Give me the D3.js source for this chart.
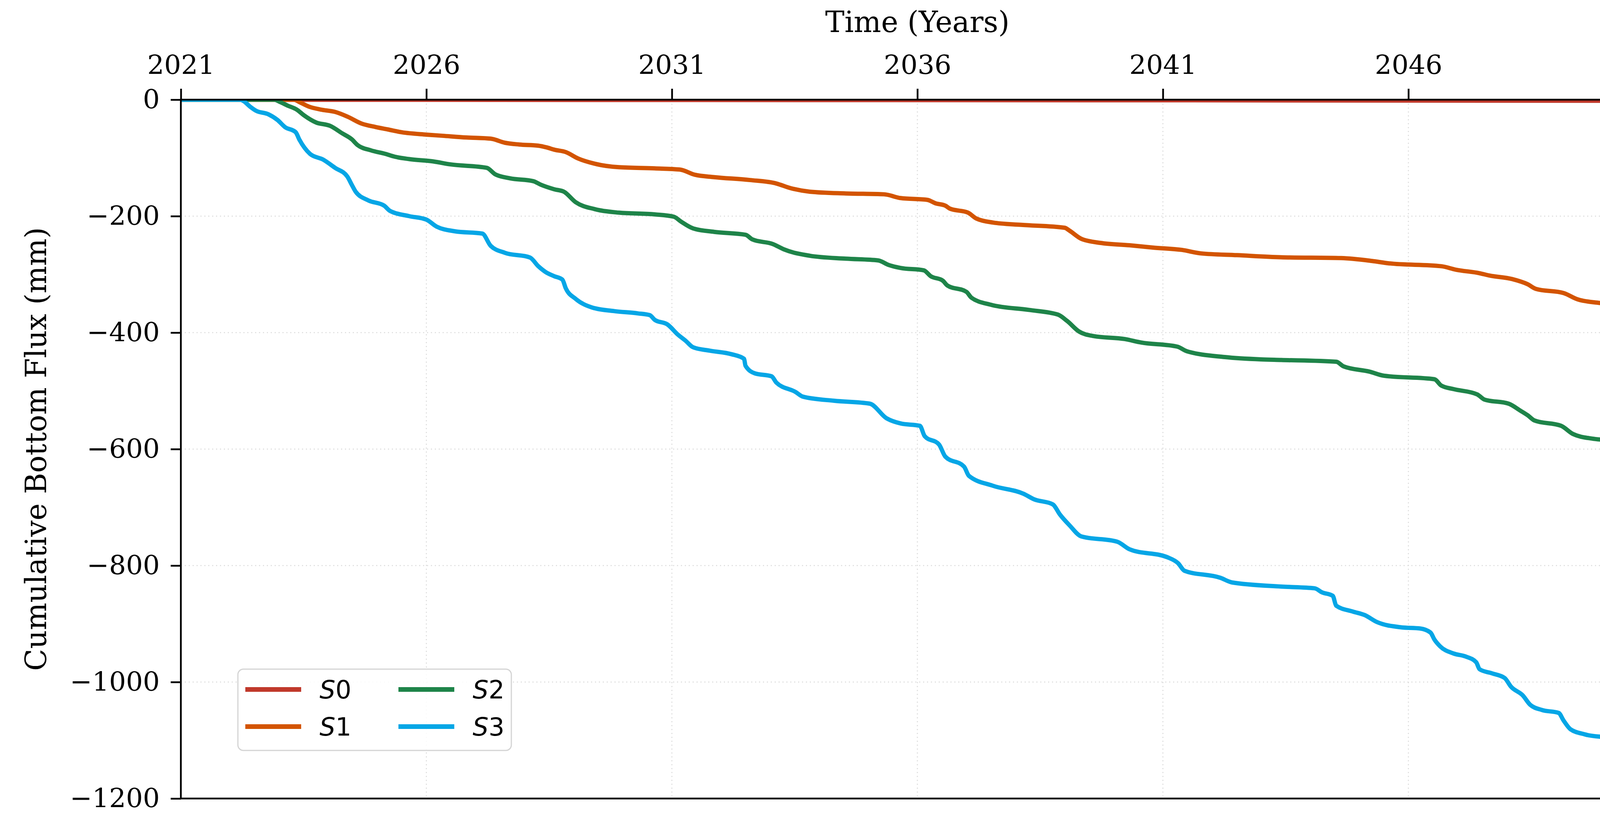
<!DOCTYPE html>
<html>
<head>
<meta charset="utf-8">
<script src="https://cdn.jsdelivr.net/npm/d3@7"></script>
<style>
  html, body { margin: 0; padding: 0; background: #fff; }
  svg { display: block; }
</style>
</head>
<body>
<div id="chart"></div>
<script>
// values (year, cumulative flux in mm)
var seriesNames = ["S0", "S1", "S2", "S3"];
var seriesColors = ["#c0392b", "#d35400", "#1e8449", "#05a6e6"];

var s0 = [[2021, 0], [2031, -0.5], [2041, -1], [2051, -2]];

var s1 = [[2021, 0], [2023.3, 0], [2023.41, -4], [2023.61, -12], [2023.85, -17], [2024.14, -21],
  [2024.39, -29], [2024.68, -41], [2024.97, -47], [2025.21, -51], [2025.5, -56], [2026.0, -60],
  [2026.33, -62], [2026.82, -65], [2027.31, -67], [2027.6, -74], [2027.89, -77], [2028.28, -79],
  [2028.45, -82], [2028.61, -86], [2028.84, -90], [2029.09, -101], [2029.43, -110], [2029.92, -116],
  [2030.65, -118], [2031.16, -120], [2031.47, -129], [2031.86, -133], [2032.59, -138], [2033.13, -144],
  [2033.42, -152], [2033.81, -158], [2034.54, -161], [2035.32, -162.5], [2035.66, -169], [2036.2, -172],
  [2036.37, -178], [2036.57, -182], [2036.66, -187], [2037.03, -194], [2037.2, -204], [2037.54, -211],
  [2038.12, -215], [2039.0, -220], [2039.1, -225], [2039.34, -239], [2039.73, -246], [2040.32, -250],
  [2040.8, -254], [2041.39, -258], [2041.78, -264], [2042.51, -267], [2043.41, -270.6], [2044.63, -272],
  [2045.26, -277], [2045.6, -281], [2046.67, -286], [2046.97, -292], [2047.45, -298], [2047.65, -302],
  [2048.11, -308], [2048.43, -317], [2048.6, -325], [2049.16, -332], [2049.45, -343], [2049.89, -349],
  [2051, -355]];

var s2 = [[2021, 0], [2022.9, 0], [2023.02, -4], [2023.17, -10], [2023.36, -17], [2023.51, -27],
  [2023.75, -39], [2024.04, -45], [2024.29, -58], [2024.48, -68], [2024.6, -78], [2024.87, -87],
  [2025.16, -93], [2025.36, -98], [2025.65, -102], [2026.14, -106], [2026.48, -111], [2027.23, -117],
  [2027.4, -128], [2027.7, -135], [2028.18, -140], [2028.33, -146], [2028.61, -154], [2028.8, -158],
  [2029.04, -176], [2029.43, -188], [2029.92, -194], [2030.65, -197], [2031.04, -201], [2031.18, -209],
  [2031.43, -221], [2031.86, -227], [2032.5, -232], [2032.64, -240], [2033.06, -248], [2033.28, -257],
  [2033.81, -268], [2034.54, -273], [2035.2, -276], [2035.42, -284], [2035.66, -289], [2036.13, -293],
  [2036.27, -303], [2036.52, -311], [2036.61, -319], [2037.0, -330], [2037.1, -340], [2037.49, -352],
  [2038.27, -361], [2038.86, -369], [2039.05, -380], [2039.29, -398], [2039.59, -406], [2040.22, -411],
  [2040.56, -417], [2041.29, -424], [2041.49, -432], [2042.26, -442], [2043.0, -446], [2043.41, -447],
  [2044.53, -450], [2044.68, -458], [2045.21, -467], [2045.5, -474], [2046.53, -480], [2046.67, -491],
  [2046.92, -497], [2047.4, -506], [2047.55, -515], [2048.04, -522], [2048.28, -534], [2048.43, -542],
  [2048.57, -551], [2049.11, -560], [2049.35, -574], [2049.74, -582], [2050.47, -587], [2051, -595]];

var s3 = [[2021, 0], [2022.2, 0], [2022.27, -2], [2022.41, -12], [2022.53, -19], [2022.78, -25],
  [2022.97, -35], [2023.12, -47], [2023.34, -56], [2023.41, -68], [2023.63, -93], [2023.9, -103],
  [2024.14, -117], [2024.39, -132], [2024.48, -146], [2024.56, -158], [2024.82, -173], [2025.14, -182],
  [2025.26, -191], [2025.65, -200], [2026.0, -206], [2026.21, -218], [2026.58, -226], [2027.14, -230],
  [2027.31, -251], [2027.6, -263], [2028.11, -271], [2028.28, -286], [2028.43, -296], [2028.6, -303],
  [2028.77, -309], [2028.84, -324], [2029.04, -342], [2029.38, -357], [2029.82, -363], [2030.31, -367],
  [2030.55, -370], [2030.65, -378], [2030.91, -386], [2031.13, -404], [2031.28, -414], [2031.43, -425],
  [2031.77, -431], [2032.21, -437], [2032.47, -445], [2032.5, -457], [2032.69, -470], [2033.03, -475],
  [2033.13, -486], [2033.52, -502], [2033.67, -510], [2034.3, -517], [2035.03, -522], [2035.37, -547],
  [2035.66, -556], [2036.05, -560], [2036.15, -578], [2036.44, -592], [2036.57, -613], [2036.95, -630],
  [2037.05, -646], [2037.54, -663], [2038.17, -677], [2038.37, -686], [2038.76, -695], [2038.9, -712],
  [2039.1, -731], [2039.34, -750], [2040.07, -759], [2040.32, -772], [2041.1, -786], [2041.31, -796],
  [2041.44, -809], [2042.17, -821], [2042.41, -829], [2043.41, -836], [2044.09, -839], [2044.24, -846],
  [2044.46, -852], [2044.53, -869], [2044.87, -879], [2045.11, -885], [2045.36, -897], [2045.85, -906],
  [2046.24, -908], [2046.45, -915], [2046.53, -927], [2046.65, -939], [2046.92, -951], [2047.16, -956],
  [2047.38, -966], [2047.45, -978], [2047.7, -985], [2047.96, -993], [2048.09, -1008], [2048.33, -1023],
  [2048.48, -1039], [2048.72, -1048], [2049.06, -1053], [2049.16, -1066], [2049.3, -1081], [2049.6, -1090],
  [2050.18, -1098], [2050.38, -1105], [2050.52, -1116], [2051, -1125]];

var xTicks = [2021, 2026, 2031, 2036, 2041, 2046, 2051];
var yTicks = [0, -200, -400, -600, -800, -1000, -1200];
var xTitle = "Time (Years)";
var yTitle = "Cumulative Bottom Flux (mm)";

var W = 4338, H = 2121;
var m = {left: 463, right: W - 4234, top: 255, bottom: H - 2043};
var pw = W - m.left - m.right, ph = H - m.top - m.bottom;
var serif = "'DejaVu Serif', serif";
var sans = "'DejaVu Sans', sans-serif";

var svg = d3.select("#chart").append("svg")
    .attr("width", W).attr("height", H)
    .style("background", "#fff");

var x = d3.scaleLinear().domain([2021, 2051]).range([0, pw]);
var y = d3.scaleLinear().domain([-1200, 0]).range([ph, 0]);

var g = svg.append("g").attr("transform", `translate(${m.left},${m.top})`);

g.append("clipPath").attr("id", "plotclip")
  .append("rect").attr("width", pw).attr("height", ph);

// grid
g.append("g").selectAll("line").data(xTicks).join("line")
    .attr("x1", d => x(d)).attr("x2", d => x(d))
    .attr("y1", 0).attr("y2", ph)
    .attr("stroke", "#dcdcdc").attr("stroke-width", 2.5)
    .attr("stroke-dasharray", "3,7");
g.append("g").selectAll("line").data(yTicks).join("line")
    .attr("x1", 0).attr("x2", pw)
    .attr("y1", d => y(d)).attr("y2", d => y(d))
    .attr("stroke", "#dcdcdc").attr("stroke-width", 2.5)
    .attr("stroke-dasharray", "3,7");

// series
var allSeries = [s0, s1, s2, s3];
var line = d3.line()
    .x(d => x(d[0])).y(d => y(d[1]))
    .curve(d3.curveMonotoneX);

g.append("g").attr("clip-path", "url(#plotclip)")
  .selectAll("path").data(allSeries).join("path")
    .attr("d", line)
    .attr("fill", "none")
    .attr("stroke", (d, i) => seriesColors[i])
    .attr("stroke-width", 11)
    .attr("stroke-linejoin", "round")
    .attr("stroke-linecap", "butt");

// axes
var xAxis = g.append("g")
    .call(d3.axisTop(x).tickValues(xTicks).tickFormat(d3.format("d"))
      .tickSize(28).tickPadding(38));
var yAxis = g.append("g")
    .call(d3.axisLeft(y).tickValues(yTicks).tickFormat(d3.format("d"))
      .tickSize(26).tickPadding(28));

[xAxis, yAxis].forEach(a => {
  a.select(".domain").remove();
  a.selectAll(".tick line").attr("stroke", "#000").attr("stroke-width", 4.5);
  a.selectAll(".tick text")
    .attr("fill", "#000")
    .style("font-family", serif)
    .style("font-size", "68px");
});

// frame
g.append("rect")
    .attr("width", pw).attr("height", ph)
    .attr("fill", "none").attr("stroke", "#000").attr("stroke-width", 4.5);

// titles
svg.append("text")
    .attr("x", m.left + pw / 2).attr("y", 82)
    .attr("text-anchor", "middle")
    .style("font-family", serif).style("font-size", "74px")
    .text(xTitle);
svg.append("text")
    .attr("transform", `translate(118,${m.top + ph / 2}) rotate(-90)`)
    .attr("text-anchor", "middle")
    .style("font-family", serif).style("font-size", "74px")
    .text(yTitle);

// legend
var lg = svg.append("g").attr("transform", "translate(609,1712)");
lg.append("rect")
    .attr("width", 700).attr("height", 208).attr("rx", 14)
    .attr("fill", "#fff").attr("fill-opacity", 0.85)
    .attr("stroke", "#d4d4d4").attr("stroke-width", 3);

var items = lg.selectAll("g.item").data(seriesNames).join("g")
    .attr("class", "item")
    .attr("transform", (d, i) => `translate(${19 + Math.floor(i / 2) * 392},${52 + (i % 2) * 95})`);
items.append("line")
    .attr("x1", 0).attr("x2", 143)
    .attr("stroke", (d, i) => seriesColors[i])
    .attr("stroke-width", 12);
var lt = items.append("text")
    .attr("x", 190).attr("y", 23)
    .style("font-family", sans).style("font-size", "64px")
    .attr("fill", "#000");
lt.append("tspan").style("font-style", "italic").text(d => d[0]);
lt.append("tspan").text(d => d.slice(1));
</script>
</body>
</html>
